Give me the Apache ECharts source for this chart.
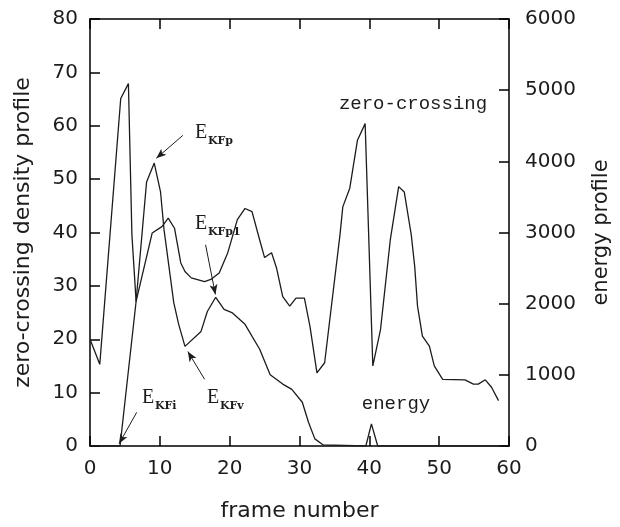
<!DOCTYPE html>
<html>
<head>
<meta charset="utf-8">
<script src="https://cdn.jsdelivr.net/npm/echarts@6/dist/echarts.min.js"></script>
<style>
  html, body {margin: 0; background: #fff;}
  #chart {width: 620px; height: 527px;}
</style>
</head>
<body>
<div id="chart"></div>
<script>
// zero-crossing density profile (left axis)
const zcFrames = [0, 1.4, 4.4, 5.5, 6.0, 6.6, 8.9, 10.3, 11.2, 12.1, 13.0, 13.6, 14.5, 16.4, 17.3, 18.5,
  19.7, 21.1, 22.2, 23.2, 24.3, 25.0, 26.0, 26.7, 27.6, 28.6, 29.5, 30.7, 31.5, 32.5, 33.6, 35.8,
  36.2, 37.2, 38.3, 39.4, 40.5, 41.6, 43.0, 44.2, 45.0, 46.0, 46.5, 46.9, 47.6, 48.6, 49.3, 50.5,
  53.7, 54.9, 55.6, 56.6, 57.5, 58.5]
const zcValues = [20, 15.3, 65.1, 67.9, 39.6, 27.1, 39.9, 41.1, 42.7, 40.8, 34.3, 32.7, 31.5, 30.8, 31.2, 32.4,
  36.1, 42.4, 44.5, 43.9, 38.6, 35.3, 36.2, 33.4, 28.0, 26.2, 27.7, 27.7, 22.4, 13.7, 15.6, 39.6,
  44.8, 48.3, 57.3, 60.4, 15.0, 21.8, 38.6, 48.6, 47.6, 39.6, 33.6, 26.2, 20.6, 18.7, 15.0, 12.5,
  12.4, 11.6, 11.6, 12.4, 11.0, 8.5]

// energy profile (right axis)
const enFrames = [0, 4.3, 6.6, 8.1, 9.2, 10.1, 10.6, 12.0, 12.7, 13.6, 15.9, 16.8, 18.0, 19.2, 20.4,
  22.2, 24.3, 25.8, 27.6, 28.9, 30.4, 31.3, 32.2, 33.4, 39.5, 40.3, 41.2, 59]
const enValues = [0, 0, 2030, 3710, 3975, 3570, 3040, 2010, 1710, 1400, 1610, 1890, 2090, 1920, 1870,
  1710, 1360, 1000, 870, 795, 615, 330, 100, 15, 0, 310, 0, 0]

const xTicks = [0, 60, 10]
const leftTicks = [0, 80, 10]
const rightTicks = [0, 6000, 1000]

// key-frame arrows, in zero-crossing axis units: [from, to]
const arrows = [
  [[13.3, 58.2], [9.5, 53.9]],   // E_KFp
  [[16.55, 37.7], [17.96, 28.4]], // E_KFp1
  [[6.69, 6.3], [4.15, 0.4]],    // E_KFi
  [[16.41, 12.5], [14.01, 17.7]], // E_KFv
]

const ink = '#1c1c1c'
const sans = 'DejaVu Sans'
const zip = (xs, ys) => xs.map((x, i) => [x, ys[i]])

const makeAxis = (ticks, extra) => Object.assign({
  type: 'value',
  min: ticks[0], max: ticks[1], interval: ticks[2],
  axisLine: {show: true, onZero: false, lineStyle: {color: '#000', width: 1.5}},
  axisTick: {show: true, inside: true, length: 10, lineStyle: {color: '#000', width: 1.5}},
  splitLine: {show: false},
  nameLocation: 'middle',
  nameTextStyle: {fontFamily: sans, fontSize: 22, color: ink},
}, extra)

const tickLabel = margin => ({fontFamily: sans, fontSize: 20, color: ink, margin: margin, formatter: v => String(v)})

const kfLabel = (x, y, sub) => [
  {type: 'text', x: x, y: y, style: {text: 'E', font: '20px "Liberation Serif"', fill: ink, verticalAlign: 'middle'}},
  {type: 'text', x: x + 13, y: y + 8, style: {text: sub, font: 'bold 11px "DejaVu Serif"', fill: ink, verticalAlign: 'middle'}},
]

const chart = echarts.init(document.getElementById('chart'))
chart.setOption({
  animation: false,
  grid: {left: 90, right: 104, top: 19, bottom: 80},
  xAxis: [
    makeAxis(xTicks, {position: 'bottom', axisLabel: tickLabel(13), name: 'frame number', nameGap: 54}),
    makeAxis(xTicks, {position: 'top', axisLabel: {show: false}}),
  ],
  yAxis: [
    makeAxis(leftTicks, {position: 'left', axisLabel: tickLabel(12),
      name: 'zero-crossing density profile', nameGap: 56}),
    makeAxis(rightTicks, {position: 'right', axisLabel: tickLabel(16),
      name: 'energy profile', nameGap: 82,
      nameTextStyle: {fontFamily: sans, fontSize: 21, color: ink}}),
  ],
  series: [
    {
      name: 'zero-crossing', type: 'line', xAxisIndex: 0, yAxisIndex: 0,
      data: zip(zcFrames, zcValues), showSymbol: false,
      lineStyle: {color: ink, width: 1.3},
      markLine: {
        silent: true, symbol: ['none', 'arrow'], symbolSize: [6, 10],
        lineStyle: {type: 'solid', color: ink, width: 1},
        label: {show: false},
        data: arrows.map(a => [{coord: a[0]}, {coord: a[1]}]),
      },
    },
    {
      name: 'energy', type: 'line', xAxisIndex: 0, yAxisIndex: 1,
      data: zip(enFrames, enValues), showSymbol: false,
      lineStyle: {color: ink, width: 1.3},
    },
  ],
  graphic: [
    ...kfLabel(195, 133, 'KFp'),
    ...kfLabel(195, 224, 'KFp1'),
    ...kfLabel(142, 398, 'KFi'),
    ...kfLabel(207, 398, 'KFv'),
    {type: 'text', x: 413, y: 104, style: {text: 'zero-crossing', font: '19px "Liberation Mono"', fill: ink, align: 'center', verticalAlign: 'middle'}},
    {type: 'text', x: 396, y: 404, style: {text: 'energy', font: '19px "Liberation Mono"', fill: ink, align: 'center', verticalAlign: 'middle'}},
  ],
})
</script>
</body>
</html>
